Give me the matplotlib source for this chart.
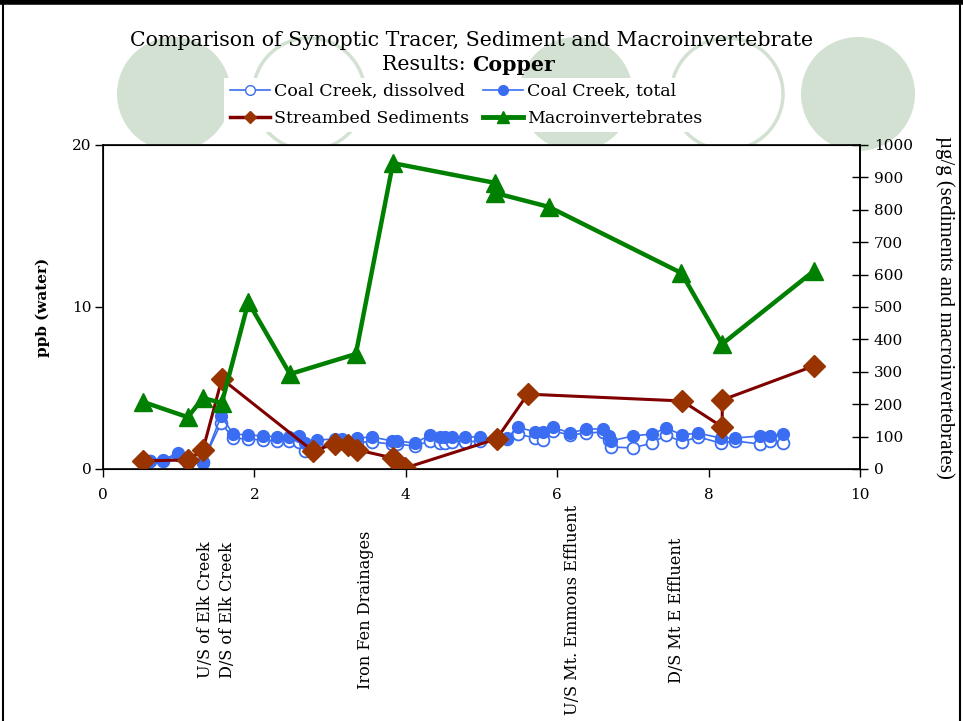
import matplotlib
matplotlib.use("Agg")
import matplotlib.pyplot as plt
from matplotlib.patches import Circle
from matplotlib.lines import Line2D

# ---------------- data ----------------
water_x = [0.62, 0.79, 0.99, 1.12, 1.32, 1.56, 1.72, 1.92, 2.11, 2.30, 2.46, 2.59,
           2.67, 2.83, 3.06, 3.16, 3.36, 3.55, 3.82, 3.88, 4.12, 4.32, 4.45, 4.52,
           4.61, 4.78, 4.98, 5.20, 5.34, 5.48, 5.71, 5.81, 5.94, 6.17, 6.38, 6.60,
           6.68, 6.71, 7.00, 7.25, 7.44, 7.65, 7.86, 8.16, 8.35, 8.68, 8.81, 8.98]
total_cu = [0.49, 0.56, 0.99, 0.43, 0.37, 3.27, 2.16, 2.10, 2.04, 1.98, 1.98, 2.04,
            1.60, 1.79, 1.85, 1.85, 1.91, 1.98, 1.73, 1.73, 1.60, 2.10, 1.98, 1.98,
            1.98, 1.98, 1.98, 1.85, 1.91, 2.59, 2.28, 2.28, 2.59, 2.22, 2.47, 2.47,
            2.04, 1.73, 2.04, 2.16, 2.53, 2.10, 2.22, 1.91, 1.91, 2.04, 2.04, 2.16]
dissolved_cu = [0.49, 0.49, 0.86, 0.37, 0.43, 2.84, 1.91, 1.85, 1.79, 1.73, 1.73, 1.67,
                1.11, 1.36, 1.60, 1.60, 1.67, 1.67, 1.54, 1.54, 1.42, 1.73, 1.60, 1.60,
                1.67, 1.67, 1.73, 1.73, 1.85, 2.16, 1.91, 1.79, 2.35, 2.10, 2.22, 2.28,
                1.79, 1.36, 1.30, 1.60, 2.10, 1.67, 1.98, 1.60, 1.73, 1.54, 1.73, 1.60]

sed_x = [0.53, 1.12, 1.32, 1.57, 2.77, 3.06, 3.24, 3.36, 3.83, 3.99, 5.20, 5.61,
         7.65, 8.18, 8.18, 9.39]
sed_cu = [25, 28, 59, 278, 56, 77, 74, 59, 34, 3, 93, 231, 210, 130, 213, 318]

macro_x = [0.53, 1.12, 1.32, 1.57, 1.92, 2.47, 3.34, 3.83, 5.18, 5.18, 5.89, 7.64,
           8.18, 9.39]
macro_cu = [207, 160, 219, 204, 515, 293, 355, 944, 883, 852, 809, 605, 386, 611]

site_x = [1.35, 1.65, 3.47, 6.20, 7.58]
site_labels = ["U/S of Elk Creek", "D/S of Elk Creek", "Iron Fen Drainages",
               "U/S Mt. Emmons Effluent", "D/S Mt E Effluent"]

left_ticks = [0, 10, 20]
right_ticks = list(range(0, 1001, 100))
x_ticks = [0, 2, 4, 6, 8, 10]

# ---------------- styling ----------------
BLUE = "#3a6df2"
SED_LINE = "#800000"
SED_MARK = "#993300"
GREEN = "#008000"
CIRC = "#d2e1d1"
SERIF = "DejaVu Serif"

W, H = 963, 721
fig = plt.figure(figsize=(W / 100, H / 100), dpi=100)
fig.patch.set_facecolor("white")

# background decoration (slide circles and frame)
bg = fig.add_axes([0, 0, 1, 1], zorder=-10)
bg.set_xlim(0, W)
bg.set_ylim(H, 0)
bg.axis("off")
for cx, filled in [(174, True), (309, False), (576, True), (727, False), (858, True)]:
    if filled:
        bg.add_patch(Circle((cx, 94), 57, facecolor=CIRC, edgecolor="none"))
    else:
        bg.add_patch(Circle((cx, 94), 56, facecolor="none", edgecolor=CIRC, linewidth=2.5))
bg.plot([0, W], [2, 2], color="black", lw=4, solid_capstyle="butt")
bg.plot([3, 3], [0, H], color="black", lw=1.5)
bg.plot([960, 960], [0, H], color="black", lw=1.5)

# main axes
ax = fig.add_axes([103 / W, 1 - 469 / H, (860 - 103) / W, (469 - 145) / H])
ax.set_facecolor("white")
ax.set_xlim(0, 10)
ax.set_ylim(0, 20)
ax.set_xticks(x_ticks)
ax.set_yticks(left_ticks)
ax.tick_params(axis="x", direction="out", length=6, width=1, labelsize=11, pad=8)
ax.tick_params(axis="y", direction="out", length=6, width=1, labelsize=11, pad=2)
for lab in ax.get_xticklabels() + ax.get_yticklabels():
    lab.set_family(SERIF)
for sp in ax.spines.values():
    sp.set_linewidth(1.2)
ax.set_ylabel("ppb (water)", fontsize=11, fontweight="bold", family=SERIF, labelpad=16)

l_diss, = ax.plot(water_x, dissolved_cu, color=BLUE, lw=1.2, marker="o", ms=8.5,
                  mfc="white", mec=BLUE, mew=1.3, label="Coal Creek, dissolved")
l_tot, = ax.plot(water_x, total_cu, color=BLUE, lw=1.2, marker="o", ms=8.5,
                 mfc=BLUE, mec=BLUE, label="Coal Creek, total")

ax2 = ax.twinx()
ax2.set_ylim(0, 1000)
ax2.set_yticks(right_ticks)
ax2.tick_params(axis="y", direction="inout", length=12, width=1, labelsize=11, pad=4)
for lab in ax2.get_yticklabels():
    lab.set_family(SERIF)
ax2.spines["right"].set_linewidth(1.2)
ax2.set_ylabel("µg/g (sediments and macroinvertebrates)", rotation=270,
               fontsize=15, family="Liberation Serif", labelpad=30)

l_sed, = ax2.plot(sed_x, sed_cu, color=SED_LINE, lw=2.2, marker="D", ms=11,
                  mfc=SED_MARK, mec=SED_MARK, label="Streambed Sediments")
l_mac, = ax2.plot(macro_x, macro_cu, color=GREEN, lw=3.2, marker="^", ms=13,
                  mfc=GREEN, mec=GREEN, label="Macroinvertebrates")

# site labels below axis
for sx, st in zip(site_x, site_labels):
    ax.text(sx, -0.435, st, transform=ax.get_xaxis_transform(), rotation=90,
            ha="center", va="center", fontsize=11.6, family=SERIF)

# title
fig.text(472 / W, 1 - 40 / H, "Comparison of Synoptic Tracer, Sediment and Macroinvertebrate",
         ha="center", va="center", fontsize=14.8, family=SERIF)
fig.text(472 / W, 1 - 65 / H, "Results: ", ha="right", va="center", fontsize=14.8, family=SERIF)
fig.text(472 / W, 1 - 65 / H, "Copper", ha="left", va="center", fontsize=14.8,
         family=SERIF, fontweight="bold")

# legend
h_diss = Line2D([], [], color=BLUE, lw=1.2, marker="o", ms=7, mfc="white", mec=BLUE)
h_tot = Line2D([], [], color=BLUE, lw=1.2, marker="o", ms=7, mfc=BLUE, mec=BLUE)
h_sed = Line2D([], [], color=SED_LINE, lw=2.5, marker="D", ms=6, mfc=SED_MARK, mec=SED_MARK)
h_mac = Line2D([], [], color=GREEN, lw=3.5, marker="^", ms=8, mfc=GREEN, mec=GREEN)
leg = fig.legend([h_diss, h_sed, h_tot, h_mac],
                 ["Coal Creek, dissolved", "Streambed Sediments",
                  "Coal Creek, total", "Macroinvertebrates"],
                 ncol=2, loc="center", bbox_to_anchor=(466 / W, 1 - 105 / H),
                 frameon=True, fancybox=False, edgecolor="none", facecolor="white",
                 framealpha=1, prop={"family": SERIF, "size": 12.5},
                 handlelength=2.3, handletextpad=0.25, columnspacing=0.8,
                 labelspacing=0.55, borderpad=0.3)

fig.savefig("out.png", dpi=100)
